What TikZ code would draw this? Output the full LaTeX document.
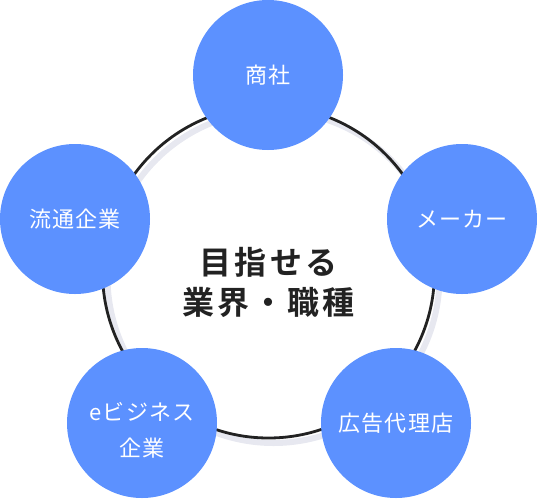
\documentclass[tikz,border=0pt]{standalone}
\usepackage{fontspec}
\newfontfamily\jpfont[LetterSpace=5]{Noto Sans CJK JP}
\newfontfamily\jphead[LetterSpace=10]{Noto Sans CJK JP Bold}
\usetikzlibrary{positioning}
\definecolor{brandblue}{HTML}{5C91FF}
\definecolor{inkgray}{HTML}{222222}
\definecolor{shadegray}{HTML}{E7E8F0}
\tikzset{
  company/.style={circle,fill=brandblue,minimum size=150pt,inner sep=0pt,
    text=white,align=center,font=\jpfont\fontsize{22}{36}\selectfont},
  blurb/.style={text=white,align=center,inner sep=0pt,font=\jpfont\fontsize{22}{36}\selectfont},
  hubring/.style={circle,draw=inkgray,line width=2.8pt,minimum size=332pt,inner sep=0pt},
}
\begin{document}
\begin{tikzpicture}[x=1pt,y=-1pt]
  \useasboundingbox (0,0) rectangle (537,498);
  % ring and its offset shade
  \draw[shadegray,line width=6pt] (273.5,277) circle (166);
  \node[hubring] (hub) at (268.5,272) {};
  % the five fields
  \node[company] (trade)  at (268,75)  {商社};
  \node[company] (maker)  at (462,219) {メーカー};
  \node[company] (agency) at (396,423) {広告代理店};
  \node[company] (ebiz)   at (142,423) {};
  \node[blurb] (ebiztext) at ([yshift=-7pt]ebiz.center) {eビジネス\\企業};
  \node[company] (retail) at (75,219)  {流通企業};
  \node[text=inkgray,align=center,font=\jphead\fontsize{32}{40}\selectfont]
    (goal) at (268.5,282) {目指せる\\業界・職種};
\end{tikzpicture}
\end{document}
